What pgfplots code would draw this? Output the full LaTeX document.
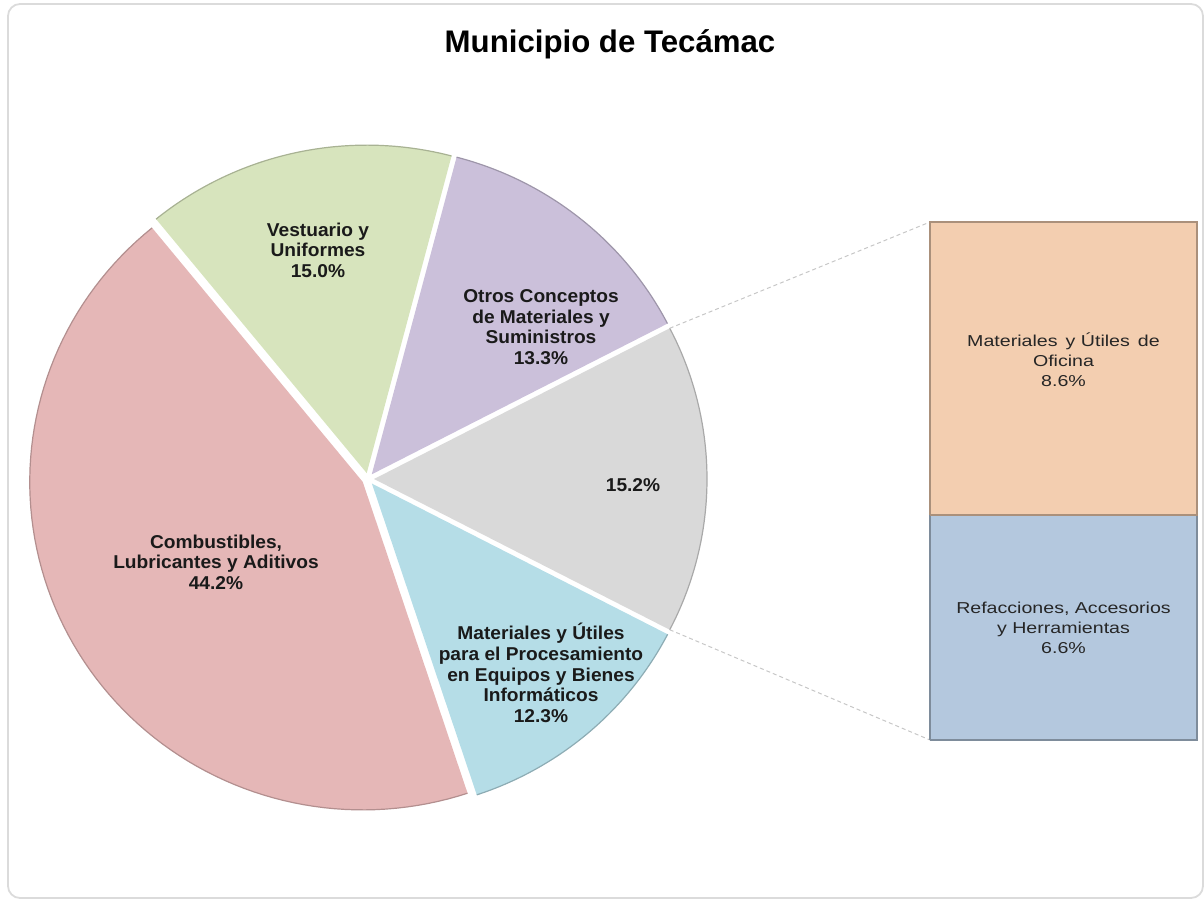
\documentclass[border=0pt]{standalone}
\usepackage{fontspec}
\setmainfont{Liberation Sans}
\newfontfamily\barfont[FakeStretch=1.24]{Liberation Sans}
\newfontfamily\piefont[FakeStretch=1.03]{Liberation Sans}
\usepackage{pgfplots}
\pgfplotsset{compat=1.18}
\definecolor{cPink}{HTML}{E5B7B7}
\definecolor{cGreen}{HTML}{D7E4BD}
\definecolor{cPurple}{HTML}{CBC0DA}
\definecolor{cGray}{HTML}{D9D9D9}
\definecolor{cBlue}{HTML}{B5DDE7}
\definecolor{cOrange}{HTML}{F3CEB0}
\definecolor{cBarBlue}{HTML}{B4C8DE}
\definecolor{cTxt}{HTML}{1A1A1A}
\definecolor{cTxtB}{HTML}{262626}
% data (percent)
\def\vComb{44.2}
\def\vVest{15.0}
\def\vOtros{13.3}
\def\vInfo{12.3}
\def\vOfic{8.6}
\def\vRef{6.6}
% geometry (pixel units of the picture)
\def\cx{368}
\def\cy{422}
\def\R{333}
\def\Ry{328}
\def\ex{6}
\newcommand\slice[3]{%
  \pgfmathsetmacro\midang{(#2+#3)/2}%
  \pgfmathsetmacro\ox{\cx+\ex*cos(\midang)}%
  \pgfmathsetmacro\oy{\cy+\ex*sin(\midang)}%
  \pgfmathsetmacro\dd{(#3-#2)/90}%
  \pgfmathsetmacro\tz{#2-\dd}%
  \pgfmathsetmacro\th{#2-0.5*\dd}%
  \edef\doslice{\noexpand\addplot[fill=#1, draw=none, domain=\tz:#3, samples=92, variable=\noexpand\t] ({(\noexpand\t<\th) ? \ox : \ox+\R*cos(\noexpand\t)},{(\noexpand\t<\th) ? \oy : \oy+\Ry*sin(\noexpand\t)});
  \noexpand\addplot[draw=#1!78!black, line width=0.6pt, domain=#2:#3, samples=90, variable=\noexpand\t] ({\ox+\R*cos(\noexpand\t)},{\oy+\Ry*sin(\noexpand\t)});}%
  \doslice
}
\begin{document}
\begin{tikzpicture}
\pgfmathsetmacro\vGray{\vOfic+\vRef}
\pgfmathsetmacro\aA{-1.8*\vGray}
\pgfmathsetmacro\aB{1.8*\vGray}
\pgfmathsetmacro\aC{\aB+3.6*\vOtros}
\pgfmathsetmacro\aD{\aC+3.6*\vVest}
\pgfmathsetmacro\aE{\aD+3.6*\vComb}
\pgfmathsetmacro\aF{\aE+3.6*\vInfo}
\pgfmathsetmacro\pxA{\cx+\ex+\R*cos(\aB)}
\pgfmathsetmacro\pyA{\cy+\Ry*sin(\aB)}
\pgfmathsetmacro\pxB{\cx+\ex+\R*cos(\aA)}
\pgfmathsetmacro\pyB{\cy+\Ry*sin(\aA)}
\useasboundingbox (0,0) rectangle (602pt,450.5pt);
\draw[draw=black!14, line width=0.9pt, rounded corners=6pt] (4pt,1.5pt) rectangle (601.5pt,448.5pt);
\node[font=\bfseries\fontsize{15.6}{18}\selectfont, text=black] at (305pt,428.5pt) {Municipio de Tecámac};
\begin{axis}[at={(0pt,0pt)}, anchor=south west, x=0.5pt, y=0.5pt,
  xmin=0, xmax=1204, ymin=0, ymax=901, hide axis, clip=false]
\slice{cGray}{\aA}{\aB}
\slice{cPurple}{\aB}{\aC}
\slice{cGreen}{\aC}{\aD}
\slice{cPink}{\aD}{\aE}
\slice{cBlue}{\aE}{\aF}
\addplot[dash pattern=on 2pt off 1.5pt, draw=black!22, line width=0.5pt] coordinates {(\pxA,\pyA) (930,679)};
\addplot[dash pattern=on 2pt off 1.5pt, draw=black!22, line width=0.5pt] coordinates {(\pxB,\pyB) (930,161)};
\begin{scope}[every node/.style={align=center, text=cTxt, font=\piefont\bfseries\fontsize{9.3}{10.3}\selectfont}]
\node at (axis cs:318,651) {Vestuario y\\Uniformes\\15.0\%};
\node at (axis cs:541,574) {Otros Conceptos\\de Materiales y\\Suministros\\13.3\%};
\node at (axis cs:633,416) {15.2\%};
\node at (axis cs:216,339) {Combustibles,\\Lubricantes y Aditivos\\44.2\%};
\node at (axis cs:541,228) {Materiales y Útiles\\para el Procesamiento\\en Equipos y Bienes\\Informáticos\\12.3\%};
\end{scope}
\end{axis}
\begin{axis}[at={(465pt,80.5pt)}, anchor=south west, scale only axis,
  width=133.5pt, height=259pt, hide axis, clip=false,
  xmin=-0.5, xmax=0.5, ymin=0, ymax=15.2]
\addplot[fill=cBarBlue, draw=cBarBlue!70!black, line width=0.6pt] coordinates {(-0.5,0) (-0.5,\vRef) (0.5,\vRef) (0.5,0) (-0.5,0)};
\addplot[fill=cOrange, draw=cOrange!70!black, line width=0.6pt] coordinates {(-0.5,\vRef) (-0.5,\vGray) (0.5,\vGray) (0.5,\vRef) (-0.5,\vRef)};
\begin{scope}[every node/.style={align=center, text=cTxtB, font=\barfont\fontsize{7.9}{10}\selectfont}]
\node at (axis cs:0,11.15) {Materiales \,y Útiles \,de\\Oficina\\8.6\%};
\node at (axis cs:0,3.3) {Refacciones, Accesorios\\y Herramientas\\6.6\%};
\end{scope}
\end{axis}
\end{tikzpicture}
\end{document}
